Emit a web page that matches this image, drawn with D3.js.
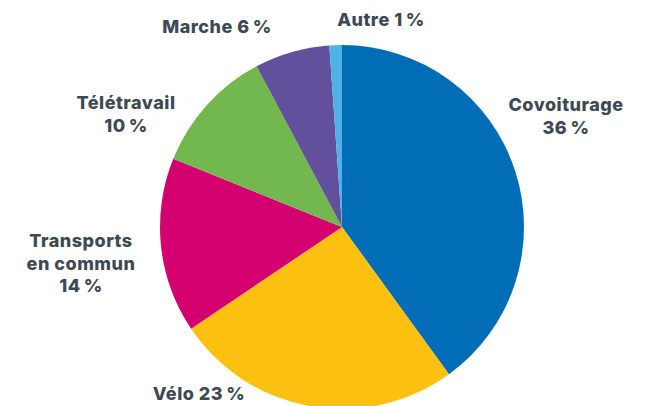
<!DOCTYPE html>
<html lang="fr">
<head>
    <meta charset="UTF-8">
    <title>Parts modales</title>
    <script src="https://cdn.jsdelivr.net/npm/d3@7"></script>
    <style>
        body { margin: 0; background: #fff; }
        .label { font-family: Inter, Lato, "Open Sans", sans-serif; font-weight: 800; font-size: 18px; fill: #3d4a53; letter-spacing: 0.5px; }
    </style>
</head>
<body>
    <div id="chart"></div>
    <script>
        var categories = ["Covoiturage", "Vélo", "Transports en commun", "Télétravail", "Marche", "Autre"];
        var values = [36, 23, 14, 10, 6, 1];
        var colors = ["#006db6", "#fcc110", "#d4006f", "#73b74f", "#63509c", "#4fb2e6"];
        // label lines, one entry per category
        var labelLines = [
            ["Covoiturage", "36\u202F%"],
            ["Vélo 23\u202F%"],
            ["Transports", "en commun", "14\u202F%"],
            ["Télétravail", "10\u202F%"],
            ["Marche 6\u202F%"],
            ["Autre 1\u202F%"]
        ];

        var w = 646, h = 406;
        var cx = 342, cy = 227, r = 182;
        var lineH = 22.5;

        // where each label block sits (centre x, first baseline y)
        var labelPos = [
            [566, 111],
            [199, 400],
            [81, 247],
            [126, 109],
            [217, 33],
            [381, 26]
        ];

        var data = categories.map((c, i) => ({ name: c, value: values[i], color: colors[i], lines: labelLines[i], pos: labelPos[i] }));

        var svg = d3.select("#chart").append("svg")
            .attr("width", w)
            .attr("height", h);

        var pie = d3.pie().sort(null).value(d => d.value);
        var arc = d3.arc().innerRadius(0).outerRadius(r);

        var g = svg.append("g").attr("transform", `translate(${cx},${cy})`);

        g.selectAll("path")
            .data(pie(data))
            .enter()
            .append("path")
            .attr("d", arc)
            .attr("fill", d => d.data.color);

        var labels = svg.selectAll(".label")
            .data(data)
            .enter()
            .append("text")
            .attr("class", "label")
            .attr("text-anchor", "middle")
            .attr("x", d => d.pos[0])
            .attr("y", d => d.pos[1]);

        labels.selectAll("tspan")
            .data(d => d.lines.map((t, i) => ({ t: t, i: i, x: d.pos[0] })))
            .enter()
            .append("tspan")
            .attr("x", d => d.x)
            .attr("dy", d => d.i === 0 ? 0 : lineH)
            .text(d => d.t);
    </script>
</body>
</html>
